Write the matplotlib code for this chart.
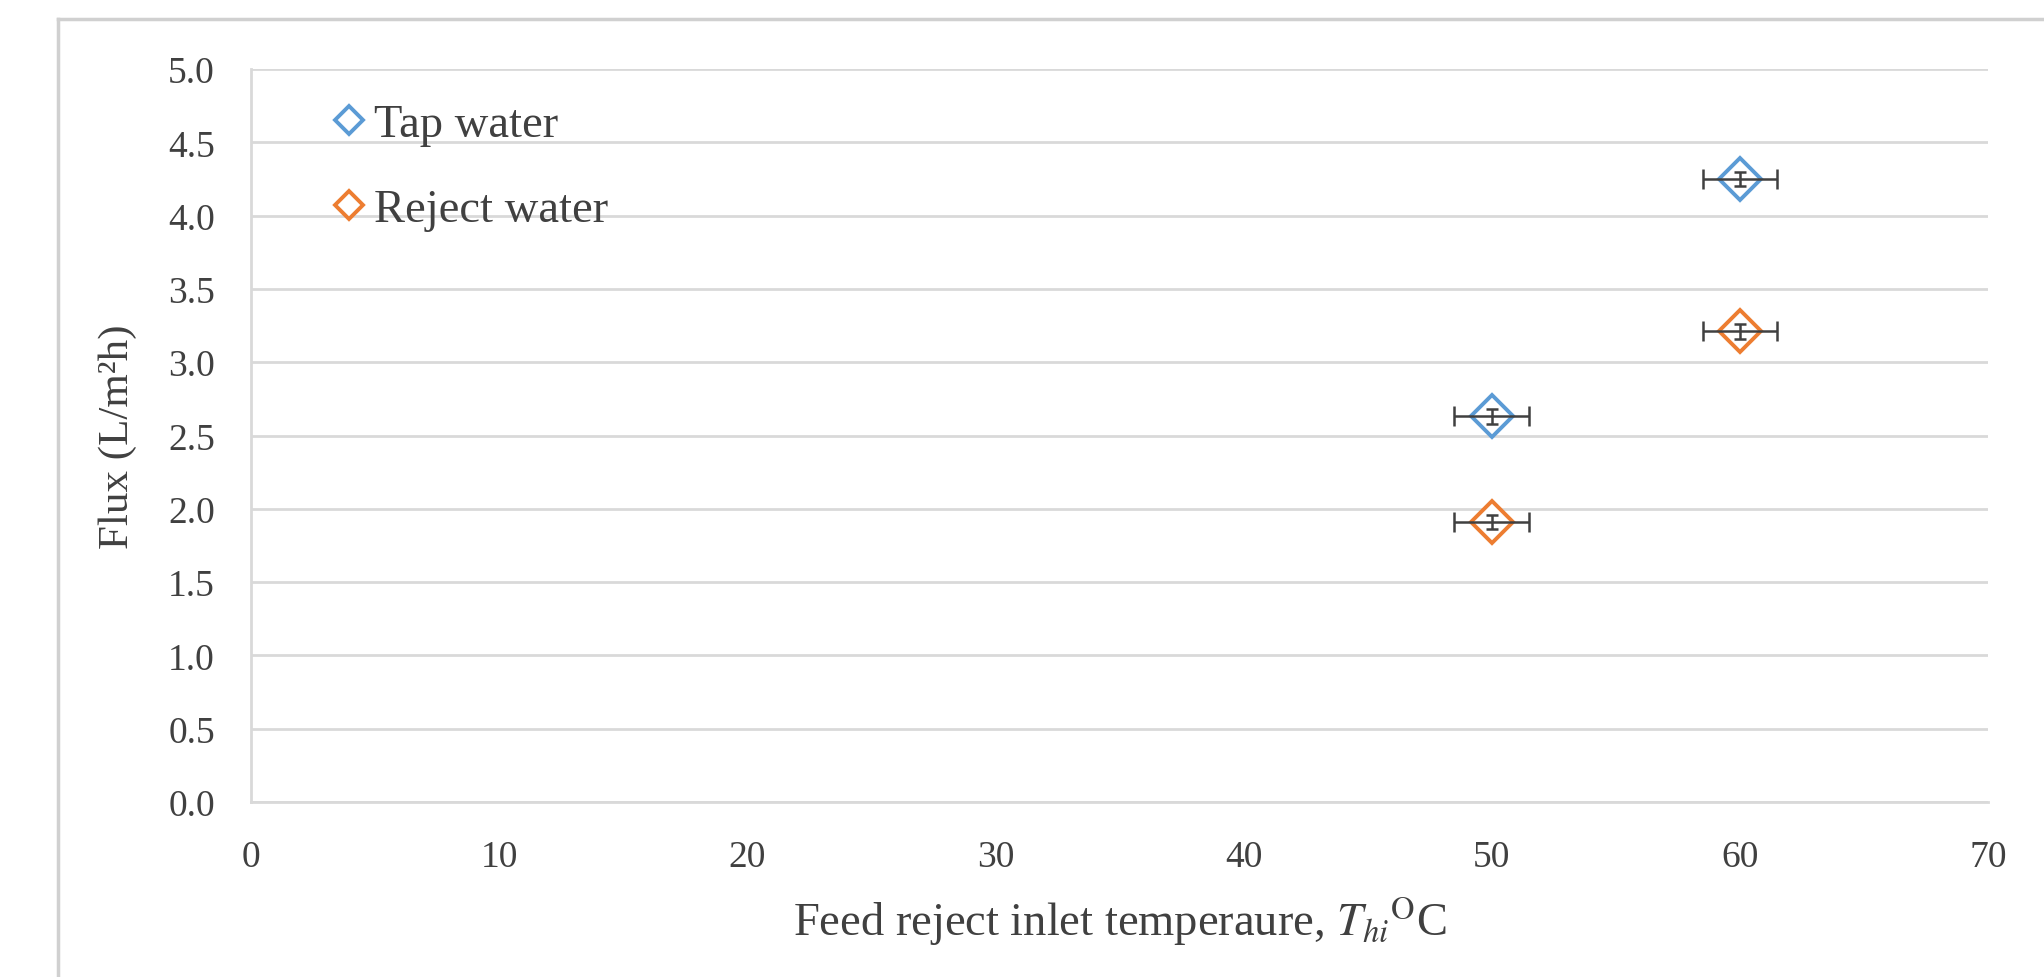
import matplotlib
matplotlib.use("Agg")
import matplotlib.pyplot as plt
from matplotlib.lines import Line2D

# ------------------------------- Data --------------------------------------------------
temps = [50, 60]
tap_flux = [2.63, 4.25]
reject_flux = [1.91, 3.21]
temp_err = [1.5, 1.5]
tap_err = [0.05, 0.05]
reject_err = [0.05, 0.05]

series_names = ["Tap water", "Reject water"]
series_colors = ["#5B9BD5", "#ED7D31"]

plt.rcParams["font.family"] = ["Liberation Serif", "DejaVu Serif"]
plt.rcParams["mathtext.fontset"] = "stix"
text_col = "#404040"
grid_col = "#d9d9d9"

fig = plt.figure(figsize=(20.44, 9.78), dpi=100)
ax = fig.add_axes([251 / 2044, 1 - 803 / 978, (1988 - 251) / 2044, (803 - 70) / 978])

# outer frame of the chart area
fig.add_artist(Line2D([58 / 2044, 1], [1 - 20 / 978, 1 - 20 / 978], transform=fig.transFigure,
                      color="#d0d0d0", lw=2.5))
fig.add_artist(Line2D([58 / 2044, 58 / 2044], [0, 1 - 20 / 978], transform=fig.transFigure,
                      color="#d0d0d0", lw=2.5))

for flux, err, col, name in zip([tap_flux, reject_flux], [tap_err, reject_err], series_colors, series_names):
    ax.plot(temps, flux, linestyle="none", marker="D", ms=21, mfc="white", mec=col, mew=2.8,
            zorder=3, label=name)
    ax.errorbar(temps, flux, xerr=temp_err, fmt="none", ecolor="#404040", elinewidth=1.8,
                capsize=7, capthick=1.8, zorder=4)
    ax.errorbar(temps, flux, yerr=err, fmt="none", ecolor="#404040", elinewidth=1.8,
                capsize=4, capthick=1.8, zorder=4)

ax.set_xlim(0, 70)
ax.set_ylim(0, 5)
ax.set_xticks(range(0, 71, 10))
ax.set_yticks([i * 0.5 for i in range(11)])
ax.set_yticklabels([f"{i * 0.5:.1f}" for i in range(11)])
ax.grid(axis="y", color=grid_col, lw=2)
ax.set_axisbelow(True)
for s in ["top", "right"]:
    ax.spines[s].set_visible(False)
for s in ["left", "bottom"]:
    ax.spines[s].set_color(grid_col)
    ax.spines[s].set_linewidth(2)
ax.tick_params(length=0, labelsize=27, colors=text_col)
ax.tick_params(axis="y", pad=26)
ax.tick_params(axis="x", pad=27)

ax.set_ylabel("Flux (L/m²h)", fontsize=31, color=text_col, labelpad=22)
ax.set_xlabel(r"Feed reject inlet temperaure, $T_{hi}$$^{\mathrm{O}}$C", fontsize=33.5,
              color=text_col, labelpad=14)

leg = ax.legend(loc="upper left", bbox_to_anchor=(0.025, 1.01), frameon=False, fontsize=33.5,
                handlelength=0.55, handletextpad=0.25, labelspacing=0.92, markerscale=0.7)
for t in leg.get_texts():
    t.set_color(text_col)

fig.savefig("out.png", dpi=100, facecolor="white")
plt.close()
